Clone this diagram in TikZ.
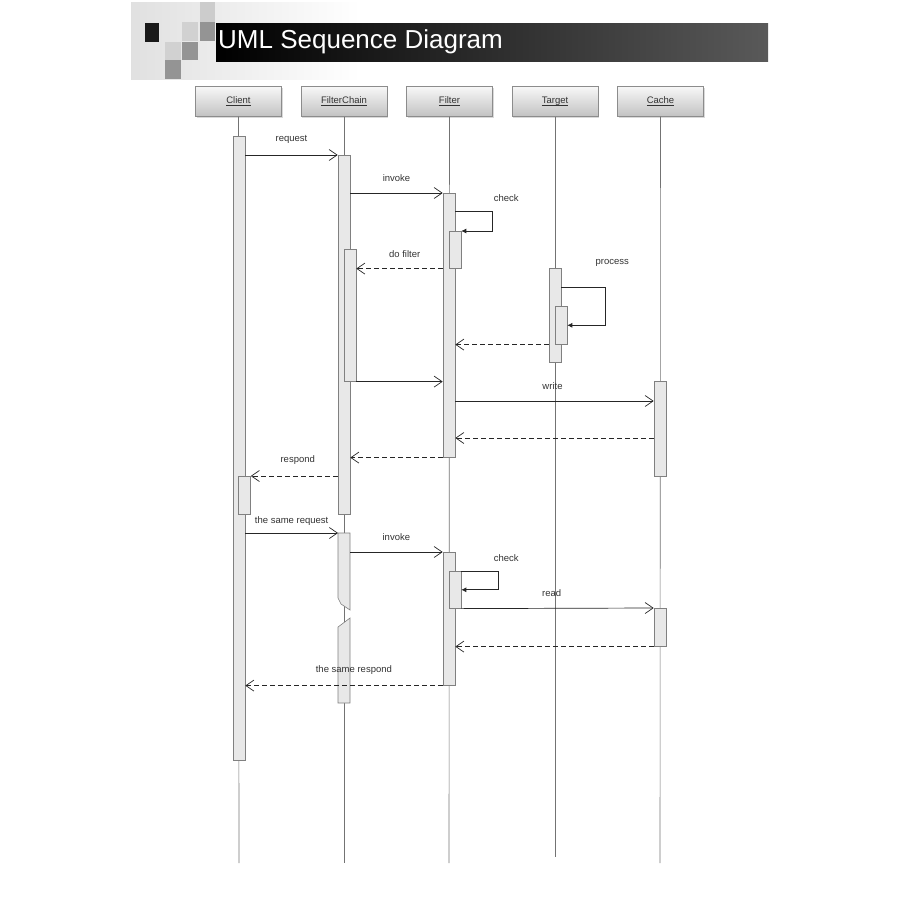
\documentclass[tikz,border=0pt]{standalone}
\usepackage{fontspec}
\setmainfont{Liberation Sans}
\usetikzlibrary{arrows.meta,shadows,positioning}

\tikzset{
  head/.style={draw=black!45, top color=black!3, bottom color=black!24,
    minimum width=86pt, minimum height=30pt, inner sep=0pt,
    drop shadow={shadow xshift=1.2pt, shadow yshift=-1.2pt, opacity=0.3},
    font=\fontsize{9.5}{11}\selectfont, text=black!80},
  life/.style={draw=black!55, line width=0.6pt},
  act/.style={draw=black!50, fill=black!9, minimum width=12pt, inner sep=0pt, line width=0.6pt},
  msg/.style={draw=black!85, line width=0.7pt, -{Straight Barb[length=8pt,width=11pt]}},
  ret/.style={msg, dash pattern=on 5pt off 3pt},
  selfmsg/.style={draw=black!85, line width=0.7pt, -{Latex[length=5pt,width=5pt]}},
  lbl/.style={font=\fontsize{9.5}{11}\selectfont, text=black!80, inner sep=1pt},
}
% 对象名 (下划线)
\newcommand{\objname}[1]{\underline{\smash{#1}\vphantom{C}}}
% 激活条: 名字, x, 顶端 y, 高度
\newcommand{\actbox}[4]{\node[act, anchor=north, minimum height=#4pt] (#1) at (#2,#3) {};}

\begin{document}
\begin{tikzpicture}[x=1pt, y=-1pt]
  \useasboundingbox (0,0) rectangle (900,900);

  % 标题
  \shade[left color=black!12, right color=white] (131,2) rectangle (360,79);
  \fill[black!20] (200,2) rectangle (215,22);
  \fill[black!18] (182,22) rectangle (198,41);
  \fill[black!18] (165,42) rectangle (181,60);
  \fill[black!42] (200,22) rectangle (215,41);
  \fill[black!42] (182,42) rectangle (198,60);
  \fill[black!42] (165,60) rectangle (181,79);
  \fill[black!90] (145,23) rectangle (159,42);
  \shade[left color=black, right color=black!65] (216,23) rectangle (768,61);
  \node[anchor=west, text=white, font=\fontsize{26}{28}\selectfont, inner sep=0pt] (title) at (218,42) {UML Sequence Diagram};

  % 对象
  \node[head] (client) at (238.5,101.5) {\objname{Client}};
  \node[head] (fchain) at (344,101.5) {\objname{FilterChain}};
  \node[head] (filter) at (449.5,101.5) {\objname{Filter}};
  \node[head] (target) at (555,101.5) {\objname{Target}};
  \node[head] (cache) at (660.5,101.5) {\objname{Cache}};

  % 生命线
  \foreach \n/\x/\e in {client/239/863, fchain/344/863, filter/449/863, target/555/857, cache/660/863} {
    \coordinate (\n-end) at (\x,\e);
    \draw[life] (\n) -- (\n-end);
  }

  % 激活条
  \actbox{cl1}{239}{136}{624}
  \actbox{cl2}{244.5}{476}{38}
  \actbox{fc1}{344}{155}{359}
  \actbox{fc1b}{350}{249}{132}
  \actbox{f1}{449}{193}{264}
  \actbox{fchk1}{455}{231}{37}
  \actbox{t1}{555}{268}{94}
  \actbox{tp1}{561}{306}{38}
  \actbox{ca1}{660}{381}{95}
  \actbox{f2}{449}{552}{133}
  \actbox{fchk2}{455}{571}{37}
  \actbox{ca2}{660}{608}{38}

  % 断开的激活条
  \coordinate (fc2a) at (338,533);
  \coordinate (fc2b) at (350,533);
  \filldraw[draw=black!50, fill=black!9, line width=0.6pt] (fc2a) -- (fc2b) -- (350,610) -- (341,604) -- (338,598) -- cycle;
  \filldraw[draw=black!50, fill=black!9, line width=0.6pt] (338,627) -- (350,618) -- (350,703) -- (338,703) -- cycle;

  % 消息的高度
  \coordinate (mwrite) at (0,401);
  \coordinate (mback) at (0,438);

  % 第一次请求
  \draw[msg] (cl1.east |- fc1.north) -- (fc1.north west) node[lbl, midway, above=10pt] (lreq) {request};
  \draw[msg] (fc1.east |- f1.north) -- (f1.north west) node[lbl, midway, above=10pt] (linv) {invoke};
  \draw[selfmsg] ([yshift=-18pt]f1.north east) -- ++(37,0) |- (fchk1.north east);
  \node[lbl] (lchk) at ([xshift=51pt, yshift=-5pt]f1.north east) {check};
  \draw[ret] (f1.west |- fchk1.south) -- (fc1b.east |- fchk1.south) node[lbl, pos=0.44, above=10pt] (ldo) {do filter};
  \draw[selfmsg] ([yshift=-19pt]t1.north east) -- ++(44,0) |- (tp1.east);
  \node[lbl] (lproc) at ([xshift=51pt, yshift=5pt]t1.north east) {process};
  \draw[ret] (t1.west |- tp1.south) -- (f1.east |- tp1.south);
  \draw[msg] (fc1b.south east) -- (f1.west |- fc1b.south);
  \draw[msg] (f1.east |- mwrite) -- (ca1.west |- mwrite) node[lbl, pos=0.49, above=10pt] (lwrite) {write};
  \draw[ret] (ca1.west |- mback) -- (f1.east |- mback);
  \draw[ret] (f1.south west) -- (fc1.east |- f1.south);
  \draw[ret] (fc1.west |- cl2.north) -- (cl2.north east) node[lbl, pos=0.46, above=10pt] (lresp) {respond};

  % 第二次请求
  \draw[msg] (cl1.east |- fc2a) -- (fc2a) node[lbl, midway, above=6pt] (lreq2) {the same request};
  \draw[msg] (fc2b |- f2.north) -- (f2.north west) node[lbl, midway, above=10pt] (linv2) {invoke};
  \draw[selfmsg] (fchk2.north east) -- ++(37,0) |- (fchk2.east);
  \node[lbl] (lchk2) at ([xshift=45pt, yshift=13pt]fchk2.north east) {check};
  \draw[msg] (fchk2.south east) -- (ca2.north west) node[lbl, pos=0.47, above=10pt] (lread) {read};
  \draw[ret] (ca2.south west) -- (f2.east |- ca2.south);
  \draw[ret] (f2.south west) -- (cl1.east |- f2.south) node[lbl, pos=0.45, above=10pt] (lresp2) {the same respond};
\end{tikzpicture}
\end{document}
